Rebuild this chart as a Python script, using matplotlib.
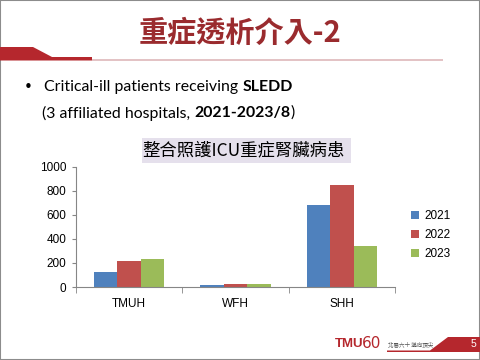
import matplotlib.pyplot as plt
import matplotlib.patches as mpatches
import numpy as np

plt.rcParams['font.family'] = ['Noto Sans CJK TC', 'DejaVu Sans']

hospitals = ['TMUH', 'WFH', 'SHH']
years = ['2021', '2022', '2023']
counts_2021 = [125, 17, 682]
counts_2022 = [216, 25, 848]
counts_2023 = [233, 25, 341]
bar_colors = ['#4F81BD', '#C0504D', '#9BBB59']

W, H = 480, 360
fig = plt.figure(figsize=(4.8, 3.6), dpi=100)
fig.patch.set_facecolor('white')


def px(x, y):
    # pixel (from top-left) to figure fraction
    return x / W, 1 - y / H


def poly(points, color, **kw):
    pts = [px(x, y) for x, y in points]
    fig.patches.append(mpatches.Polygon(pts, closed=True, transform=fig.transFigure,
                                        facecolor=color, edgecolor='none', **kw))


# slide border
fig.patches.append(mpatches.Rectangle((0, 0), 1, 1, transform=fig.transFigure,
                                      facecolor='none', edgecolor='#8c8c8c', lw=1.5))

# title decoration
poly([(0, 47), (33, 47), (52, 57), (92, 57), (92, 60.5), (0, 60.5)], '#B5272D')
poly([(92, 59), (443, 59), (443, 60.5), (92, 60.5)], '#E3C3C5')

fig.text(*px(240, 33), '重症透析介入-2', ha='center', va='center',
         fontsize=21, color='#9A2B2E', weight='bold')

# bullet lines
fig.text(*px(28, 87), '•', ha='center', va='center', fontsize=11, color='black',
         family='DejaVu Sans')
fig.canvas.draw()
r = fig.canvas.get_renderer()


def runs(x0, y0, parts):
    x = x0
    for s, w in parts:
        tt = fig.text(*px(x, y0), s, ha='left', va='center', fontsize=11.4,
                      weight=w, family=['Lato', 'DejaVu Sans'], color='black')
        bb = tt.get_window_extent(renderer=r)
        x += bb.width


runs(44, 87, [('Critical-ill patients receiving ', 'normal'), ('SLEDD', 'bold')])
runs(42, 113, [('(3 affiliated hospitals, ', 'normal'), ('2021-2023/8', 'bold'), (')', 'normal')])

# chart title box
poly([(142, 138), (351, 138), (351, 163), (142, 163)], '#E5E0EC')
fig.text(*px(243, 150.5), '整合照護ICU重症腎臟病患', ha='center', va='center',
         fontsize=12.5, color='black')

# chart
ax = fig.add_axes([76 / W, 1 - 287 / H, 319 / W, 120.3 / H])
x = np.arange(len(hospitals))
bw = 0.22
for i, (vals, c, yr) in enumerate(zip([counts_2021, counts_2022, counts_2023], bar_colors, years)):
    ax.bar(x + (i - 1) * bw, vals, bw, color=c, label=yr, zorder=2)

ax.set_xlim(-0.5, 2.5)
ax.set_ylim(0, 1000)
ax.set_yticks([0, 200, 400, 600, 800, 1000])
ax.set_xticks(x)
ax.set_xticklabels(hospitals)
ax.set_xticks([-0.5, 0.5, 1.5, 2.5], minor=True)
ax.tick_params(axis='x', which='major', length=0, pad=8, labelsize=8.5)
ax.tick_params(axis='x', which='minor', length=4, color='#868686', direction='out')
ax.tick_params(axis='y', length=3, color='#868686', labelsize=8.5, pad=4)
for lab in ax.get_xticklabels() + ax.get_yticklabels():
    lab.set_family(['Liberation Sans', 'DejaVu Sans'])
for s in ['top', 'right']:
    ax.spines[s].set_visible(False)
for s in ['left', 'bottom']:
    ax.spines[s].set_color('#868686')
ax.set_facecolor('none')

ax.legend(loc='center left', bbox_to_anchor=(400 / W, 1 - 235 / H),
          bbox_transform=fig.transFigure, frameon=False, handlelength=0.7,
          handleheight=0.7, handletextpad=0.5, labelspacing=0.6,
          prop={'family': 'Liberation Sans', 'size': 8.5})

# footer
poly([(387, 350.5), (430, 350.5), (448, 337), (480, 337), (480, 352), (387, 352)], '#B5272D')
fig.text(*px(335, 344), 'TMU', ha='left', va='center', fontsize=9.5, weight='bold',
         color='#B5272D', family='Liberation Sans')
fig.text(*px(362, 344), '60', ha='left', va='center', fontsize=11,
         color='#B5272D', family='DejaVu Sans')
fig.text(*px(388, 344), '北醫六十 邁向頂尖', ha='left', va='center', fontsize=4,
         color='#555555')
fig.text(*px(473, 344), '5', ha='center', va='center', fontsize=7.5, color='white',
         family='Liberation Sans')

fig.savefig('out.png', dpi=100)
